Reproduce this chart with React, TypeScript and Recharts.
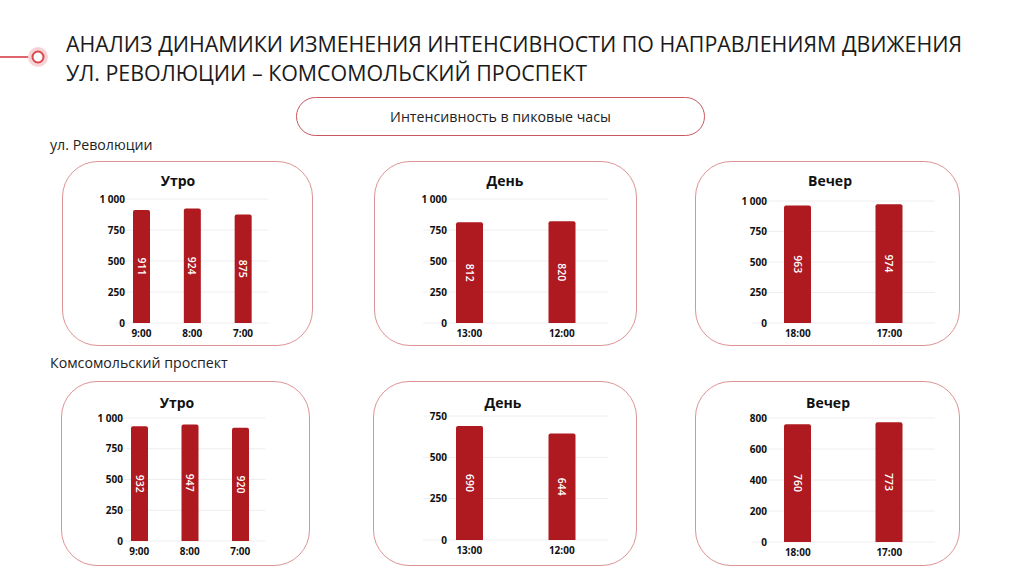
import React from 'react';
import { BarChart, Bar, XAxis, YAxis, CartesianGrid, LabelList } from 'recharts';

// categories
const morningHours = ['9:00', '8:00', '7:00'];
const dayHours = ['13:00', '12:00'];
const eveningHours = ['18:00', '17:00'];

// ул. Революции
const revMorning = [911, 924, 875];
const revDay = [812, 820];
const revEvening = [963, 974];

// Комсомольский проспект
const komMorning = [932, 947, 920];
const komDay = [690, 644];
const komEvening = [760, 773];

// tick labels
const ticks1000 = [0, 250, 500, 750, 1000];
const ticks750 = [0, 250, 500, 750];
const ticks800 = [0, 200, 400, 600, 800];

const BAR = '#ae1a1f';
const BORDER = '#dc9396';
const FONT = '"Open Sans", "Noto Sans", sans-serif';
const Y_W = 50;
const X_H = 20;

// "1 000" with a non-breaking space so the tick text is not wrapped
const fmt = (v: number) =>
    v >= 1000 ? `${Math.floor(v / 1000)}\u00A0${String(v % 1000).padStart(3, '0')}` : String(v);

const RotatedLabel = (props: any) => {
    const { x, y, width, height, value } = props;
    const cx = x + width / 2;
    const cy = y + height / 2;
    return (
        <text
            x={cx}
            y={cy}
            transform={`rotate(90, ${cx}, ${cy})`}
            textAnchor="middle"
            dominantBaseline="central"
            fill="#fff"
            fontSize={10.5}
            fontWeight={600}
            fontFamily={FONT}
        >
            {value}
        </text>
    );
};

interface PanelProps {
    box: { x: number; y: number; w: number; h: number };
    plot: { l: number; r: number; t: number; b: number };
    title: string;
    titleX: number;
    titleY: number;
    cats: string[];
    vals: number[];
    ticks: number[];
    barSize: number;
    labelEnd: number;
}

const Panel = ({ box, plot, title, titleX, titleY, cats, vals, ticks, barSize, labelEnd }: PanelProps) => {
    const data = cats.map((c, i) => ({ hour: c, value: vals[i] }));
    const margin = {
        left: plot.l - box.x - Y_W,
        right: box.x + box.w - plot.r,
        top: plot.t - box.y,
        bottom: box.y + box.h - plot.b - X_H,
    };
    return (
        <>
            <div
                style={{
                    position: 'absolute',
                    left: box.x,
                    top: box.y,
                    width: box.w,
                    height: box.h,
                    boxSizing: 'border-box',
                    border: `1px solid ${BORDER}`,
                    borderRadius: 36,
                }}
            />
            <div
                style={{
                    position: 'absolute',
                    left: titleX - 60,
                    width: 120,
                    top: titleY - 10,
                    textAlign: 'center',
                    fontFamily: FONT,
                    fontWeight: 700,
                    fontSize: 14,
                    lineHeight: '20px',
                    color: '#111',
                }}
            >
                {title}
            </div>
            <div style={{ position: 'absolute', left: box.x, top: box.y }}>
                <BarChart width={box.w} height={box.h} data={data} margin={margin}>
                    <CartesianGrid vertical={false} stroke="#eeeeee" />
                    <XAxis
                        dataKey="hour"
                        height={X_H}
                        axisLine={false}
                        tickLine={false}
                        tickSize={0}
                        tickMargin={7}
                        interval={0}
                        tick={{ fill: '#111', fontSize: 10, fontWeight: 700, fontFamily: FONT }}
                    />
                    <YAxis
                        width={Y_W}
                        domain={[0, ticks[ticks.length - 1]]}
                        ticks={ticks}
                        axisLine={false}
                        tickLine={false}
                        tickSize={0}
                        tickMargin={plot.l - labelEnd}
                        interval={0}
                        tickFormatter={fmt}
                        tick={{ fill: '#111', fontSize: 10, fontWeight: 700, fontFamily: FONT }}
                    />
                    <Bar dataKey="value" fill={BAR} barSize={barSize} radius={[2, 2, 0, 0]} isAnimationActive={false}>
                        <LabelList dataKey="value" content={<RotatedLabel />} />
                    </Bar>
                </BarChart>
            </div>
        </>
    );
};

export default function App() {
    return (
        <div
            style={{
                position: 'absolute',
                left: 0,
                top: 0,
                width: 1024,
                height: 576,
                background: '#fff',
                overflow: 'hidden',
                fontFamily: FONT,
            }}
        >
            {/* header marker */}
            <svg width={60} height={80} style={{ position: 'absolute', left: 0, top: 20 }}>
                <line x1={0} y1={37} x2={32} y2={37} stroke="#e0646b" strokeWidth={2} />
                <circle cx={38} cy={37} r={10} fill="#f8d3d5" />
                <circle cx={38} cy={37} r={5.5} fill="#fff" stroke="#d9464e" strokeWidth={2} />
            </svg>
            <div
                style={{
                    position: 'absolute',
                    left: 66,
                    top: 29,
                    fontSize: 21.4,
                    lineHeight: '29px',
                    color: '#1a1a1a',
                    whiteSpace: 'nowrap',
                }}
            >
                АНАЛИЗ ДИНАМИКИ ИЗМЕНЕНИЯ ИНТЕНСИВНОСТИ ПО НАПРАВЛЕНИЯМ ДВИЖЕНИЯ
                <br />
                УЛ. РЕВОЛЮЦИИ – КОМСОМОЛЬСКИЙ ПРОСПЕКТ
            </div>

            <div
                style={{
                    position: 'absolute',
                    left: 296,
                    top: 97,
                    width: 409,
                    height: 39,
                    boxSizing: 'border-box',
                    border: '1px solid #c9575d',
                    borderRadius: 20,
                    textAlign: 'center',
                    lineHeight: '37px',
                    fontSize: 14.2,
                    color: '#222',
                }}
            >
                Интенсивность в пиковые часы
            </div>

            <div style={{ position: 'absolute', left: 50, top: 135, fontSize: 14.2, lineHeight: '20px', color: '#222' }}>
                ул. Революции
            </div>
            <div style={{ position: 'absolute', left: 50, top: 353, fontSize: 14.2, lineHeight: '20px', color: '#222' }}>
                Комсомольский проспект
            </div>

            <Panel
                box={{ x: 62, y: 161, w: 251, h: 185 }}
                plot={{ l: 116, r: 268.5, t: 199, b: 323 }}
                title="Утро" titleX={178} titleY={181}
                cats={morningHours} vals={revMorning} ticks={ticks1000}
                barSize={17} labelEnd={125}
            />
            <Panel
                box={{ x: 374, y: 161, w: 263, h: 185 }}
                plot={{ l: 423, r: 608, t: 199, b: 323 }}
                title="День" titleX={505} titleY={181}
                cats={dayHours} vals={revDay} ticks={ticks1000}
                barSize={27} labelEnd={447}
            />
            <Panel
                box={{ x: 695, y: 161, w: 265, h: 185 }}
                plot={{ l: 752, r: 935, t: 201, b: 323 }}
                title="Вечер" titleX={830} titleY={181}
                cats={eveningHours} vals={revEvening} ticks={ticks1000}
                barSize={27} labelEnd={767}
            />
            <Panel
                box={{ x: 61, y: 381, w: 249, h: 185 }}
                plot={{ l: 114, r: 265.5, t: 418, b: 541 }}
                title="Утро" titleX={177} titleY={403}
                cats={morningHours} vals={komMorning} ticks={ticks1000}
                barSize={17} labelEnd={123}
            />
            <Panel
                box={{ x: 373, y: 381, w: 264, h: 185 }}
                plot={{ l: 423, r: 608, t: 416, b: 540 }}
                title="День" titleX={503} titleY={403}
                cats={dayHours} vals={komDay} ticks={ticks750}
                barSize={27} labelEnd={447}
            />
            <Panel
                box={{ x: 695, y: 381, w: 265, h: 185 }}
                plot={{ l: 752, r: 935, t: 418, b: 542 }}
                title="Вечер" titleX={828} titleY={403}
                cats={eveningHours} vals={komEvening} ticks={ticks800}
                barSize={27} labelEnd={767}
            />
        </div>
    );
}
